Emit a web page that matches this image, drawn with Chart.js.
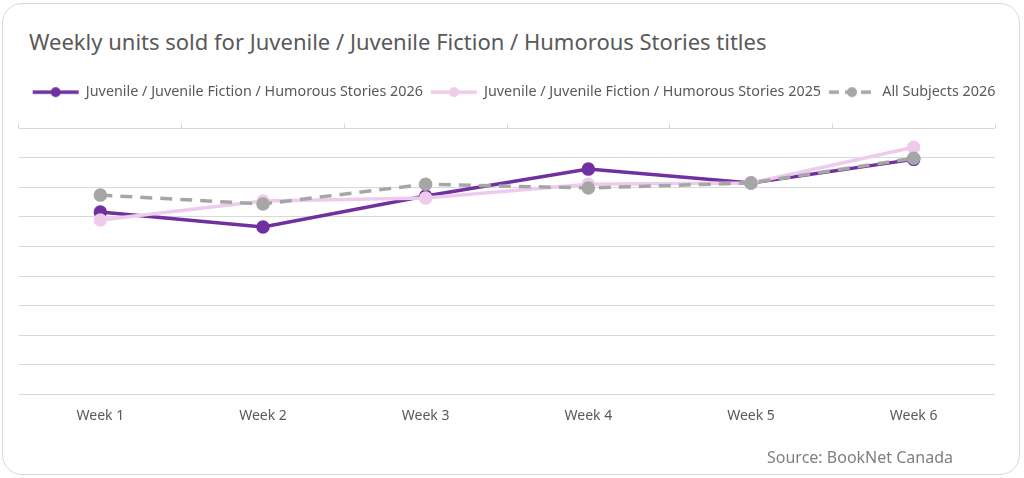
<!DOCTYPE html>
<html>
<head>
<meta charset="utf-8">
<script src="https://cdn.jsdelivr.net/npm/chart.js@4.4.1/dist/chart.umd.min.js"></script>
<style>
  body { margin: 0; background: #fff; }
  .card {
    position: absolute; left: 2px; top: 3px; width: 1016px; height: 470px;
    border: 1px solid #d9d9d9; border-radius: 20px; background: #fff;
  }
  .title {
    position: absolute; left: 26px; top: 22px; font-family: "Noto Sans", sans-serif;
    font-size: 22px; color: #595959; white-space: nowrap;
  }
  .source {
    position: absolute; right: 66px; bottom: 6px; font-family: "Noto Sans", sans-serif;
    font-size: 16px; color: #7f7f7f;
  }
  #chart { position: absolute; left: 0; top: 0; }
</style>
</head>
<body>
<div class="card">
  <div class="title">Weekly units sold for Juvenile / Juvenile Fiction / Humorous Stories titles</div>
  <canvas id="chart" width="1016" height="470"></canvas>
  <div class="source">Source: BookNet Canada</div>
</div>
<script>
const weeks = ["Week 1", "Week 2", "Week 3", "Week 4", "Week 5", "Week 6"];
const humorous2026 = [617, 566, 671, 762, 715, 795];
const humorous2025 = [590, 654, 664, 711, 715, 836];
const allSubjects2026 = [674, 644, 711, 698, 715, 799];

const purple = "#7030a0";
const pink = "#eecbec";
const gray = "#a6a6a6";

// little line+dot swatch for the legend
const makeSwatch = (color, dashed) => {
  const c = document.createElement("canvas");
  c.width = 48;
  c.height = 12;
  const ctx = c.getContext("2d");
  ctx.strokeStyle = color;
  ctx.lineWidth = 3.5;
  if (dashed) ctx.setLineDash([10, 6]);
  ctx.beginPath();
  ctx.moveTo(1, 6);
  ctx.lineTo(47, 6);
  ctx.stroke();
  ctx.fillStyle = color;
  ctx.beginPath();
  ctx.arc(24, 6, 5, 0, Math.PI * 2);
  ctx.fill();
  return c;
};

const swatches = [makeSwatch(purple, false), makeSwatch(pink, false), makeSwatch(gray, true)];

// keep the legend on one row and nudge it a few px right, like the original
const legendTweak = {
  id: "legendTweak",
  afterInit(chart) {
    const legend = chart.legend;
    const update = legend.update.bind(legend);
    legend.update = (maxWidth, maxHeight, margins) => update(maxWidth + 40, maxHeight, margins);
  },
  afterUpdate(chart) {
    const legend = chart.legend;
    if (!legend) return;
    legend.left += 7 - 20;
    legend.right += 7 + 20;
    legend.adjustHitBoxes();
  },
};

new Chart(document.getElementById("chart"), {
  type: "line",
  data: {
    labels: weeks,
    datasets: [
      {
        label: "Juvenile / Juvenile Fiction / Humorous Stories 2026",
        data: humorous2026,
        borderColor: purple,
        backgroundColor: purple,
        borderWidth: 3.5,
        pointRadius: 5,
        order: 3,
      },
      {
        label: "Juvenile / Juvenile Fiction / Humorous Stories 2025",
        data: humorous2025,
        borderColor: pink,
        backgroundColor: pink,
        borderWidth: 3.5,
        pointRadius: 5,
        order: 2,
      },
      {
        label: "All Subjects 2026",
        data: allSubjects2026,
        borderColor: gray,
        backgroundColor: gray,
        borderWidth: 3.5,
        borderDash: [12, 8],
        pointRadius: 5,
        order: 1,
      },
    ],
  },
  plugins: [legendTweak],
  options: {
    responsive: false,
    animation: false,
    layout: { padding: { left: 16, right: 24, top: 73, bottom: 45 } },
    plugins: {
      tooltip: { enabled: false },
      legend: {
        position: "top",
        labels: {
          usePointStyle: true,
          pointStyleWidth: 46,
          color: "#595959",
          font: { family: "Noto Sans", size: 14.35 },
          padding: 8,
          sort: (a, b) => a.datasetIndex - b.datasetIndex,
          generateLabels: (chart) =>
            Chart.defaults.plugins.legend.labels.generateLabels(chart).map((item) => ({
              ...item,
              pointStyle: swatches[item.datasetIndex],
            })),
        },
      },
    },
    scales: {
      x: {
        offset: true,
        grid: { display: false },
        border: { display: false },
        ticks: { color: "#595959", font: { family: "Noto Sans", size: 14 }, padding: 5 },
      },
      x2: {
        type: "category",
        position: "top",
        labels: weeks,
        offset: true,
        grid: { offset: true, drawOnChartArea: false, drawTicks: true, tickLength: 5, color: "#d9d9d9" },
        border: { display: false },
        ticks: { display: false },
        afterFit: (scale) => {
          scale.height += 14;
        },
      },
      y: {
        min: 0,
        max: 900,
        ticks: { display: false, stepSize: 100 },
        grid: { color: "#d9d9d9", drawTicks: false },
        border: { display: false },
      },
    },
  },
});
</script>
</body>
</html>
